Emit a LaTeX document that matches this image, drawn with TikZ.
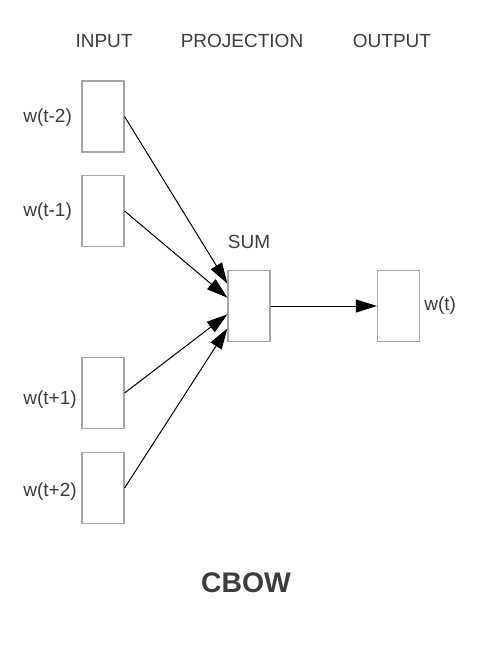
\documentclass[tikz,border=0pt]{standalone}
\usepackage{fontspec}
\setmainfont{Liberation Sans}
\usetikzlibrary{arrows.meta, positioning}
\definecolor{txtgray}{RGB}{60,60,60}
\definecolor{boxgray}{RGB}{165,165,165}

\begin{document}
\begin{tikzpicture}[x=0.6pt, y=-0.6pt,
    wbox/.style={draw=boxgray, line width=0.7pt, minimum width=25.2pt, minimum height=42.6pt, inner sep=0pt},
    wlabel/.style={text=txtgray, font=\fontsize{11.4}{13}\selectfont, inner sep=0pt},
    conn/.style={-{Triangle[length=12.6pt, width=7.8pt]}, line width=0.6pt}]
    \useasboundingbox (0,0) rectangle (494,650);

    % Column headings
    \node[wlabel] (hin) at (104,41) {INPUT};
    \node[wlabel] (hproj) at (242,41) {PROJECTION};
    \node[wlabel] (hout) at (392,41) {OUTPUT};

    % Context words (input)
    \node[wbox] (wm2) at (103,116.5) {};
    \node[wbox] (wm1) at (103,211) {};
    \node[wbox] (wp1) at (103,393) {};
    \node[wbox] (wp2) at (103,488) {};
    \node[wlabel, anchor=west] (lm2) at (23,118) {w(t-2)};
    \node[wlabel, anchor=west] (lm1) at (23,212) {w(t-1)};
    \node[wlabel, anchor=west] (lp1) at (23,400) {w(t+1)};
    \node[wlabel, anchor=west] (lp2) at (23,492) {w(t+2)};

    % Projection layer
    \node[wbox] (sum) at (249,306) {};
    \node[wlabel, above=12.6pt of sum] (lsum) {SUM};

    % Output word
    \node[wbox] (wout) at (398.5,306) {};
    \node[wlabel, right=2.4pt of wout] (lout) {w(t)};

    % Connections
    \draw[conn] (wm2.east) -- (sum.134);
    \draw[conn] (wm1.east) -- (sum.159);
    \draw[conn] (wp1.east) -- (sum.201);
    \draw[conn] (wp2.east) -- (sum.226);
    \draw[conn] (sum.east) -- (wout.west);

    % Model name
    \node[text=txtgray, font=\bfseries\fontsize{17}{20}\selectfont] (title) at (246,583) {CBOW};
\end{tikzpicture}
\end{document}
